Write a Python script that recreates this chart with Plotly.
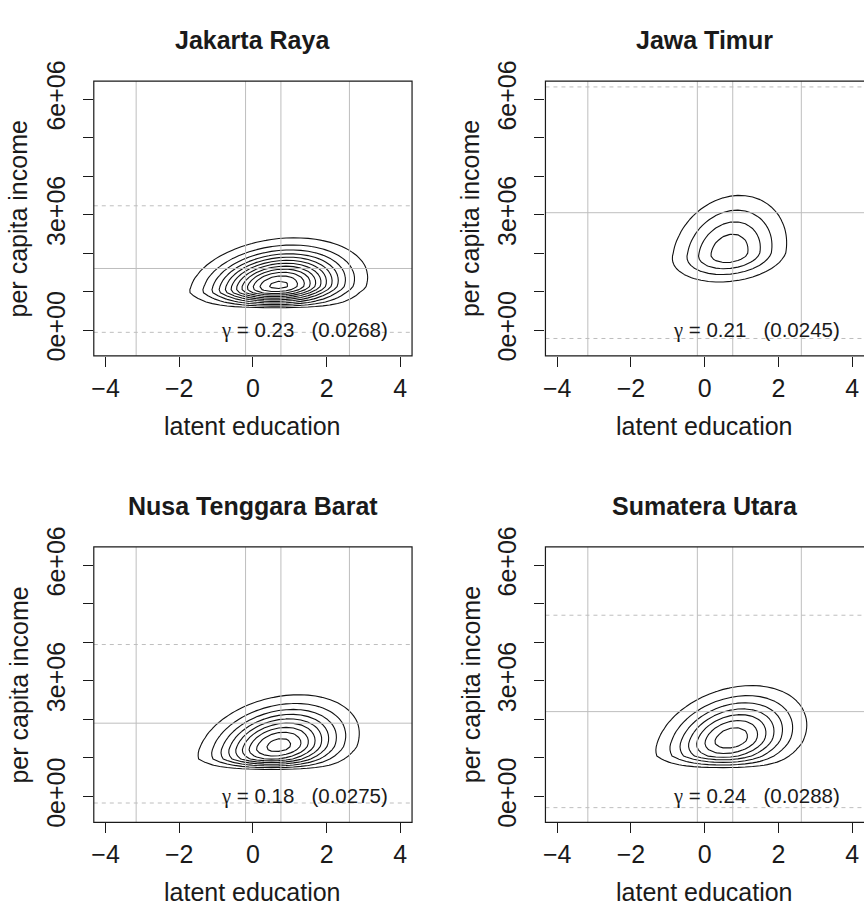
import numpy as np
import plotly.graph_objects as go

W, H = 864, 913

# ---------------- data ----------------
regions = ["Jakarta Raya", "Jawa Timur", "Nusa Tenggara Barat", "Sumatera Utara"]
gamma_est = ["0.23", "0.21", "0.18", "0.24"]
gamma_se = ["0.0268", "0.0245", "0.0275", "0.0288"]

# density shape parameters (x: latent education, y: income)
x_center = [0.70, 0.67, 0.70, 0.72]
x_spread = [1.076, 0.876, 1.03, 1.01]
y_mode = [1.14e6, 2.00e6, 1.30e6, 1.48e6]
y_spread_up = [0.56e6, 0.85e6, 0.63e6, 0.69e6]
y_spread_down = [0.30e6, 0.425e6, 0.43e6, 0.52e6]
tilt = [0.18, 0.18, 0.25, 0.27]
floor_lo = [0.54e6, None, 0.66e6, 0.68e6]
floor_hi = [0.97e6, None, 0.97e6, 1.05e6]
n_levels = [12, 4, 9, 7]
peak_ratio = [12.36, 4.74, 9.5, 7.72]

# reference lines
v_lines = [-3.17, -0.20, 0.76, 2.62]
h_line = [1.60e6, 3.05e6, 1.90e6, 2.20e6]
dashed_lines = [[3.23e6, -0.06e6], [6.32e6, -0.22e6], [3.94e6, -0.17e6], [4.70e6, -0.29e6]]

x_ticks = [-4, -2, 0, 2, 4]
x_tick_text = ["\u22124", "\u22122", "0", "2", "4"]
y_ticks = [0, 1e6, 2e6, 3e6, 4e6, 5e6, 6e6]
y_tick_text = ["0e+00", "", "", "3e+06", "", "", "6e+06"]
x_range = [-4.32, 4.32]
y_range = [-0.67e6, 6.47e6]

# ---------------- layout geometry (pixels) ----------------
box_x = [(92, 411), (544.7, 864), (92, 411), (544.7, 864)]
box_y = [(62, 345), (62, 345), (542, 825.7), (542, 825.7)]
BOX_W = 319

FONT = "Liberation Sans, Arial, Helvetica, sans-serif"
TXT = "#1a1a1a"
GRAY = "#bebebe"


def px(x):
    return x / W


def py(y):
    return 1 - y / H


def density(i, xg, yg):
    X, Y = np.meshgrid(xg, yg)

    def base(Xv, Yv):
        u = (Xv - x_center[i]) / x_spread[i]
        dy = Yv - y_mode[i]
        v = np.where(dy > 0, dy / y_spread_up[i], dy / y_spread_down[i])
        r = tilt[i]
        q = (u * u - 2 * r * u * v + v * v) / (1 - r * r)
        return np.exp(-0.5 * q)

    Z = base(X, Y)
    if floor_lo[i] is not None:
        lo, hi = floor_lo[i], floor_hi[i]
        ramp = np.clip((Y - lo) / (hi - lo), 0, 1)
        Zb = base(X, np.full_like(Y, hi))
        Z = np.where(Y < hi, Zb * ramp, Z)
    return Z


xg = np.arange(-4.3, 4.31, 0.2)

fig = go.Figure()
layout = dict(
    width=W, height=H, margin=dict(l=0, r=0, t=0, b=0),
    paper_bgcolor="white", plot_bgcolor="white", showlegend=False,
    font=dict(family=FONT, color=TXT),
)
shapes = []
annotations = []

for i in range(4):
    sfx = "" if i == 0 else str(i + 1)
    xa, ya = "x" + sfx, "y" + sfx
    x0, x1 = box_x[i]
    y0, y1 = box_y[i]
    layout["xaxis" + sfx] = dict(
        domain=[px(x0), min(px(x1), 1.0)], anchor=ya, range=x_range,
        tickvals=x_ticks, ticktext=x_tick_text, ticks="outside", ticklen=10,
        tickwidth=1, tickcolor=TXT, showgrid=False, zeroline=False, showline=False,
        tickfont=dict(size=25, family=FONT, color=TXT), fixedrange=True,
    )
    layout["yaxis" + sfx] = dict(
        domain=[py(y1), py(y0)], anchor=xa, range=y_range,
        tickvals=y_ticks, ticktext=y_tick_text, ticks="outside", ticklen=10,
        tickwidth=1, tickcolor=TXT, showgrid=False, zeroline=False, showline=False,
        tickangle=-90, tickfont=dict(size=25, family=FONT, color=TXT), fixedrange=True,
        ticklabelstandoff=8,
    )

    # grid in y aligned on the lower edge of the density
    y_anchor = floor_hi[i] if floor_hi[i] is not None else y_mode[i]
    step = 0.08e6
    yg = y_anchor + step * np.arange(-int((y_anchor + 0.6e6) / step), int((6.4e6 - y_anchor) / step))
    Z = density(i, xg, yg)
    s = 1.0 / peak_ratio[i]
    fig.add_trace(go.Contour(
        x=xg, y=yg, z=Z, xaxis=xa, yaxis=ya,
        contours=dict(start=s, end=n_levels[i] * s + 1e-9, size=s, coloring="lines"),
        colorscale=[[0, "#111111"], [1, "#111111"]], showscale=False,
        line=dict(width=1.1, smoothing=0), hoverinfo="skip",
    ))

    # reference lines
    for xv in v_lines:
        shapes.append(dict(type="line", xref=xa, yref=ya + " domain", x0=xv, x1=xv, y0=0, y1=1,
                           line=dict(color=GRAY, width=1), layer="above"))
    shapes.append(dict(type="line", xref=xa + " domain", yref=ya, x0=0, x1=1, y0=h_line[i], y1=h_line[i],
                       line=dict(color=GRAY, width=1), layer="above"))
    for yv in dashed_lines[i]:
        shapes.append(dict(type="line", xref=xa + " domain", yref=ya, x0=0, x1=1, y0=yv, y1=yv,
                           line=dict(color=GRAY, width=1, dash="4px,4px"), layer="above"))

    # box
    shapes.append(dict(type="rect", xref="paper", yref="paper",
                       x0=px(x0), x1=px(x1) + (0.01 if x1 >= W else 0), y0=py(y1), y1=py(y0),
                       line=dict(color=TXT, width=1.2), fillcolor="rgba(0,0,0,0)", layer="above"))

    cx = x0 + BOX_W / 2
    # title
    annotations.append(dict(text="<b>" + regions[i] + "</b>", xref="paper", yref="paper",
                            x=px(cx), y=py(y0 - 42), xanchor="center", yanchor="middle",
                            showarrow=False, font=dict(size=25, family=FONT, color=TXT)))
    # x-axis title
    annotations.append(dict(text="latent education", xref="paper", yref="paper",
                            x=px(cx), y=py(y1 + 72), xanchor="center", yanchor="middle",
                            showarrow=False, font=dict(size=25, family=FONT, color=TXT)))
    # y-axis title
    annotations.append(dict(text="per capita income", xref="paper", yref="paper",
                            x=px(x0 - 75), y=py((y0 + y1) / 2), xanchor="center", yanchor="middle",
                            textangle=-90, showarrow=False, font=dict(size=25, family=FONT, color=TXT)))
    # gamma label
    annotations.append(dict(
        text="<span style=\"font-family:'Liberation Serif', serif\">\u03b3</span>\u00a0=\u00a0"
             + gamma_est[i] + "\u00a0\u00a0\u00a0(" + gamma_se[i] + ")",
        xref=xa, yref=ya, x=1.4, y=0, xanchor="center", yanchor="middle",
        showarrow=False, font=dict(size=20.5, family=FONT, color=TXT)))

layout["shapes"] = shapes
layout["annotations"] = annotations
fig.update_layout(**layout)
fig.write_html("out.html")
